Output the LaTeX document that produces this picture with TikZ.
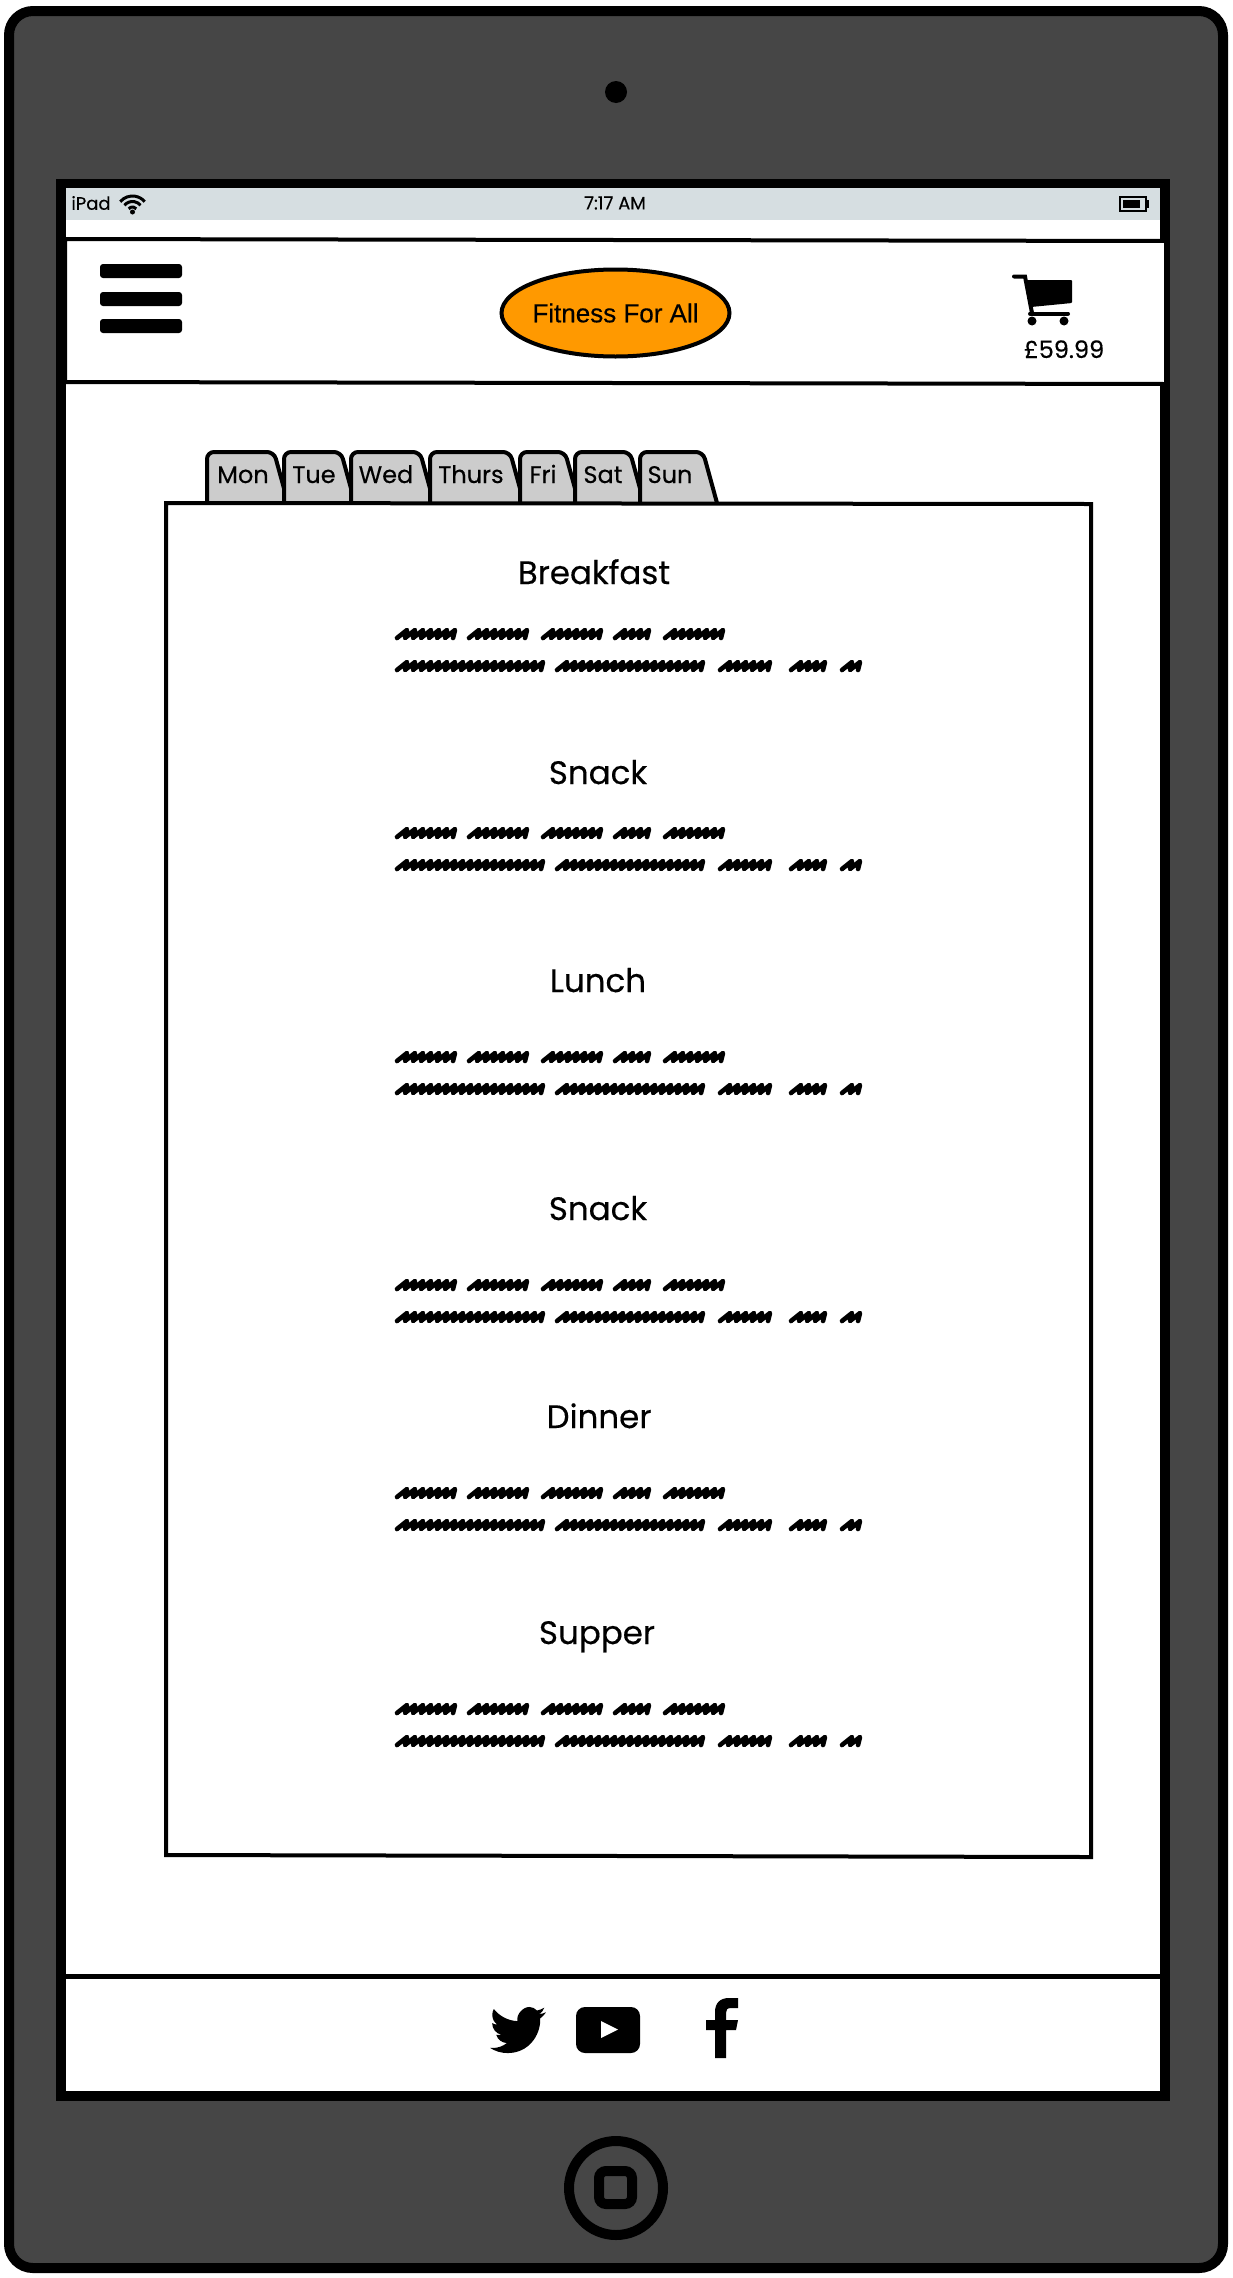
\documentclass[tikz,border=0pt]{standalone}
\usepackage{fontspec}
\usepackage{xcolor}
\usetikzlibrary{shapes.geometric}
\setmainfont{Poppins}[FakeBold=0.35]
\newfontfamily\logofont{Liberation Sans}[FakeBold=0.4]
\definecolor{bodygrey}{HTML}{464646}
\definecolor{statusgrey}{HTML}{D6DEE1}
\definecolor{logoorange}{HTML}{FF9900}
\definecolor{tabgrey}{HTML}{CCCCCC}
\tikzset{
    heading/.style={anchor=base, inner sep=0pt, font=\fontsize{32.5}{38}\selectfont},
    tablabel/.style={anchor=base, inner sep=0pt, font=\fontsize{24}{28}\selectfont},
    statuslabel/.style={inner sep=0pt, font=\fontsize{18}{20}\selectfont},
    tabshape/.style={draw=black, fill=tabgrey, line width=4, rounded corners=7pt},
    burgerbar/.style={fill=black, rounded corners=3pt},
    scribble/.style={draw=black, line width=4.6, line cap=round, line join=round}
}
\newcommand{\scribbleword}[3]{%
    \pgfmathsetmacro{\nextx}{#1+8}%
    \draw[scribble] (#1,#3+4) \foreach \x in {#1,\nextx,...,#2} { -- (\x+10,#3-4) -- (\x+8,#3+4) };%
}

\begin{document}
\begin{tikzpicture}[x=1pt, y=-1pt]
    \useasboundingbox (0,0) rectangle (1232,2278);

    % tablet body
    \draw[line width=10, fill=bodygrey, rounded corners=24pt] (9,11) rectangle (1223,2268);
    \fill (616,92) circle (11);
    \draw[line width=10] (616,2188) circle (47);
    \draw[line width=10, rounded corners=7pt] (599,2171) rectangle (632,2204);

    % screen
    \draw[line width=10, fill=white] (61,184) rectangle (1165,2096);
    \fill[statusgrey] (66,188) rectangle (1160,220);
    \node[statuslabel] (ipad) at (91,203) {iPad};
    \node[statuslabel] (clock) at (615,203) {7:17 AM};
    \foreach \r in {5,10.5,16}
        \draw[line width=3] ({132.5-\r*0.766},{212-\r*0.643}) arc[start angle=-140, end angle=-40, radius=\r];
    \fill (132.5,212) circle (2.5);
    \draw[line width=2] (1120,197) rectangle (1146,211);
    \fill (1123,200) rectangle (1140,208);
    \fill (1146,200) rectangle (1149,208);

    % header bar
    \draw[line width=4, fill=white] (65,239) -- (1166,241) -- (1166,384) -- (65,382) -- cycle;
    \foreach \y in {264,292,319}
        \fill[burgerbar] (100,\y) rectangle (182,\y+14);
    \node[ellipse, draw=black, line width=4, fill=logoorange, minimum width=228pt, minimum height=87pt, inner sep=0pt, inner xsep=-16pt,
        font=\logofont\fontsize{26}{30}\selectfont] (logo) at (615.5,313) {Fitness For All};
    \draw[line width=4, line cap=round] (1014,276.5) -- (1025,276.5) -- (1032,313);
    \fill[rounded corners=1pt] (1027,280) -- (1072,280) -- (1072,303) -- (1031,307) -- cycle;
    \draw[line width=4, line cap=round] (1030,313.5) -- (1068,313.5);
    \fill (1032,321) circle (4.5);
    \fill (1064,321) circle (4.5);
    \node[anchor=base, inner sep=0pt, font=\fontsize{24}{28}\selectfont] (price) at (1064,358) {£59.99};

    % day tabs and panel
    \foreach \a/\b/\c/\t in {207/284/243/Mon, 284/351/314/Tue, 351/430/386/Wed, 430/520/471/Thurs, 520/575/543/Fri, 575/640/603/Sat, 640/713/670/Sun} {
        \draw[tabshape] (\a,503) -- (\a,452) -- (\b-10,452) -- (\b+4,503);
        \node[tablabel] (tab\t) at (\c,483) {\t};
    }
    \draw[line width=4, fill=white] (166,503) -- (1091,504) -- (1091,1857) -- (166,1855) -- cycle;

    % meals
    \node[heading] (breakfast) at (594,584) {Breakfast};
    \node[heading] (snackone) at (598,784) {Snack};
    \node[heading] (lunch) at (598,992) {Lunch};
    \node[heading] (snacktwo) at (598,1220) {Snack};
    \node[heading] (dinner) at (599,1428) {Dinner};
    \node[heading] (supper) at (597,1644) {Supper};
    \foreach \y in {634,833,1057,1285,1493,1709} {
        \foreach \a/\b in {397/446, 469/518, 543/591, 615/643, 665/716} {
            \scribbleword{\a}{\b}{\y}
        }
        \foreach \a/\b in {397/533, 557/694, 720/767, 791/816, 842/855} {
            \scribbleword{\a}{\b}{\y+32}
        }
    }

    % footer bar
    \fill (66,1974) rectangle (1160,1979);
    \fill[white] (70,1979) rectangle (1160,2090);
    % twitter
    \begin{scope}[shift={(490,2001.5)}, x=2.33pt, y=-2.37pt]
        \fill (23.953,4.57) .. controls (23.07,4.96) and (22.12,5.22) .. (21.128,5.345)
            .. controls (22.14,4.72) and (22.92,3.77) .. (23.291,2.622)
            .. controls (22.34,3.177) and (21.286,3.581) .. (20.164,3.806)
            .. controls (19.3,2.85) and (18.1,2.3) .. (16.86,2.3)
            .. controls (14.14,2.3) and (11.14,5.5) .. (11.78,8.288)
            .. controls (7.69,8.095) and (4.067,6.13) .. (1.64,3.162)
            .. controls (1.21,3.89) and (0.974,4.75) .. (0.974,5.637)
            .. controls (0.974,7.347) and (1.844,8.85) .. (3.162,9.733)
            .. controls (2.35,9.71) and (1.58,9.49) .. (0.934,9.117)
            -- (0.934,9.177)
            .. controls (0.934,11.55) and (2.63,13.54) .. (4.88,14.004)
            .. controls (4.15,14.2) and (3.39,14.23) .. (2.668,14.089)
            .. controls (3.3,16.05) and (5.12,17.47) .. (7.272,17.506)
            .. controls (5.58,18.83) and (3.45,19.611) .. (1.17,19.611)
            .. controls (.78,19.611) and (.391,19.588) .. (0,19.544)
            .. controls (2.17,20.95) and (4.77,21.753) .. (7.557,21.753)
            .. controls (16.61,21.753) and (21.555,14.257) .. (21.555,7.768)
            -- (21.54,7.138)
            .. controls (22.5,6.44) and (23.33,5.58) .. (24,4.59) -- cycle;
    \end{scope}
    % youtube
    \fill[rounded corners=9pt] (576,2007) rectangle (640,2053);
    \fill[white] (601,2021) -- (618,2029.5) -- (601,2038) -- cycle;
    % facebook
    \fill (715,2058) -- (715,2030) -- (706,2030) -- (706,2020) -- (715,2020) -- (715,2012)
        .. controls (715,2003) and (720,1998) .. (729,1998) -- (738,1998) -- (738,2008) -- (731,2008)
        .. controls (727,2008) and (726,2010) .. (726,2013) -- (726,2020) -- (738,2020) -- (736,2030)
        -- (726,2030) -- (726,2058) -- cycle;
\end{tikzpicture}
\end{document}
